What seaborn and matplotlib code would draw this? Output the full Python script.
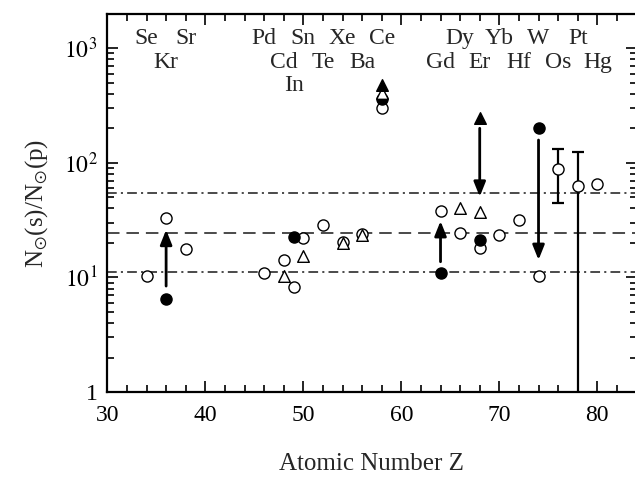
import numpy as np
import pandas as pd
import matplotlib
matplotlib.use('Agg')
import matplotlib.pyplot as plt
import matplotlib.ticker as mticker
import matplotlib.transforms as mtransforms
import seaborn as sns

# element labels along the top (Z, symbol, row)
elem_z = [34, 36, 38, 46, 48, 49, 50, 52, 54, 56, 58, 64, 66, 68, 70, 72, 74, 76, 78, 80]
elem_sym = ['Se', 'Kr', 'Sr', 'Pd', 'Cd', 'In', 'Sn', 'Te', 'Xe', 'Ba', 'Ce',
            'Gd', 'Dy', 'Er', 'Yb', 'Hf', 'W', 'Os', 'Pt', 'Hg']
elem_row = [0, 1, 0, 0, 1, 2, 0, 1, 0, 1, 0, 1, 0, 1, 0, 1, 0, 1, 0, 1]

# open circles
oc_z = [34, 36, 38, 46, 48, 49, 50, 52, 54, 56, 58, 64, 66, 68, 70, 72, 74, 76, 78, 80]
oc_v = [10.3, 33, 17.7, 10.9, 14.2, 8.2, 22.1, 28.8, 20.4, 23.9, 299,
        38, 24.6, 17.9, 23.6, 31.9, 10.3, 88, 63, 65]
# filled circles
fc_z = [36, 49, 58, 64, 68, 74]
fc_v = [6.5, 22.4, 358, 10.9, 21.2, 202]
# open triangles
ot_z = [48, 50, 54, 56, 58, 66, 68]
ot_v = [10.3, 15.4, 19.9, 23.3, 404, 40, 37]
# filled triangles
ft_z = [58, 68]
ft_v = [477, 244]

# arrows (start -> end)
arrow_z = [36, 64, 68, 74]
arrow_from = [8.4, 13.7, 200, 158]
arrow_to = [26, 31, 50.6, 14.2]

# error bars
err_z = [76, 78]
err_v = [88, 63]
err_lo = [44.3, 0.5]
err_hi = [132, 125]

# reference levels
lvl_mean = 24.3
lvl_band = [11.2, 55]

sns.set_style('ticks')
plt.rcParams['font.family'] = ['Liberation Serif', 'DejaVu Serif']
plt.rcParams['mathtext.fontset'] = 'stix'
plt.rcParams['lines.scale_dashes'] = False

fig = plt.figure(figsize=(6.35, 4.83), dpi=100)
ax = fig.add_axes([0.169, 0.1884, 0.8334, 0.7826])

ax.set_yscale('log')
ax.set_xlim(30, 84)
ax.set_ylim(1, 1987)

line_col = '#3c3c3c'
ax.axhline(lvl_mean, color=line_col, lw=1.3, dashes=(9, 5), zorder=1)
for lv in lvl_band:
    ax.axhline(lv, color=line_col, lw=1.3, dashes=(7, 3, 1.5, 3), zorder=1)

lo = np.array(err_v) - np.array(err_lo)
hi = np.array(err_hi) - np.array(err_v)
ax.errorbar(err_z, err_v, yerr=[lo, hi], fmt='none', ecolor='k',
            elinewidth=1.6, capsize=4, capthick=1.6, zorder=2)

for z, a, b in zip(arrow_z, arrow_from, arrow_to):
    ax.annotate('', xy=(z, b), xytext=(z, a),
                arrowprops=dict(arrowstyle='-|>,head_length=0.55,head_width=0.22',
                                color='k', lw=2.0, mutation_scale=16,
                                shrinkA=0, shrinkB=0), zorder=3)

df_oc = pd.DataFrame({'Z': oc_z, 'v': oc_v})
df_fc = pd.DataFrame({'Z': fc_z, 'v': fc_v})
df_ot = pd.DataFrame({'Z': ot_z, 'v': ot_v})
df_ft = pd.DataFrame({'Z': ft_z, 'v': ft_v})

sns.scatterplot(data=df_oc, x='Z', y='v', marker='o', s=64, facecolor='white',
                edgecolor='k', linewidth=1.0, ax=ax, zorder=4)
sns.scatterplot(data=df_fc, x='Z', y='v', marker='o', s=64, color='k',
                edgecolor='k', linewidth=1.0, ax=ax, zorder=5)
sns.scatterplot(data=df_ot, x='Z', y='v', marker='^', s=70, facecolor='white',
                edgecolor='k', linewidth=1.0, ax=ax, zorder=6)
sns.scatterplot(data=df_ft, x='Z', y='v', marker='^', s=70, color='k',
                edgecolor='k', linewidth=1.0, ax=ax, zorder=7)

trans = mtransforms.blended_transform_factory(ax.transData, ax.transAxes)
row_y = [0.934, 0.873, 0.812]
for z, sym, r in zip(elem_z, elem_sym, elem_row):
    ax.text(z, row_y[r], sym, transform=trans, ha='center', va='center', fontsize=17)

ax.xaxis.set_major_locator(mticker.MultipleLocator(10))
ax.xaxis.set_minor_locator(mticker.MultipleLocator(2))


def fmt_y(v, pos):
    e = int(round(np.log10(v)))
    if e == 0:
        return '1'
    return '$10^{%d}$' % e


ax.yaxis.set_major_locator(mticker.LogLocator(base=10))
ax.yaxis.set_major_formatter(mticker.FuncFormatter(fmt_y))
ax.yaxis.set_minor_locator(mticker.LogLocator(base=10, subs=np.arange(2, 10)))
ax.yaxis.set_minor_formatter(mticker.NullFormatter())

ax.tick_params(which='both', direction='in', top=True, right=True,
               width=1.2, colors='k', labelsize=17)
ax.tick_params(which='major', length=8)
ax.tick_params(which='minor', length=5)
ax.tick_params(axis='x', pad=9)
ax.tick_params(axis='y', pad=7)

for sp in ax.spines.values():
    sp.set_linewidth(1.6)
    sp.set_color('k')

ax.set_xlabel('Atomic Number Z', fontsize=18, labelpad=20)
ax.set_ylabel('N$_{\\odot}$(s)/N$_{\\odot}$(p)', fontsize=18, labelpad=10)

fig.savefig('out.png', dpi=100)
